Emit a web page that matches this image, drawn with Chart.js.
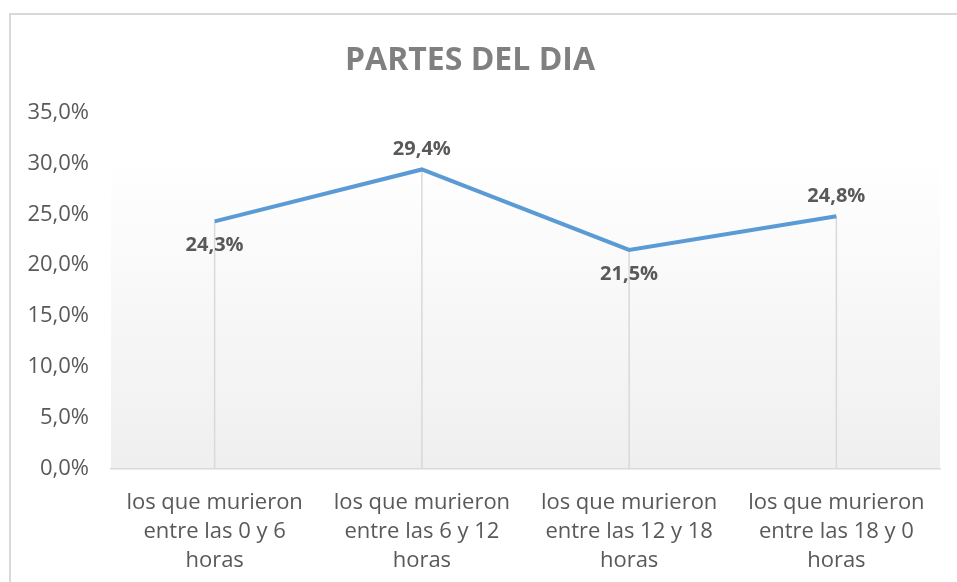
<!DOCTYPE html>
<html lang="es">
<head>
    <meta charset="UTF-8">
    <title>Partes del día</title>
    <script src="https://cdn.jsdelivr.net/npm/chart.js"></script>
    <style>
        html, body { margin: 0; padding: 0; background: #fff; }
        #marco {
            position: absolute;
            left: 9px; top: 13px;
            width: 960px; height: 600px;
            border: 2px solid #d9d9d9;
            box-sizing: border-box;
        }
        #grafico { position: absolute; left: 0; top: 0; }
    </style>
</head>
<body>
    <div id="marco"></div>
    <canvas id="grafico" width="957" height="582"></canvas>

    <script>
        // Datos del gráfico
        const categorias = [
            ['los que murieron', 'entre las 0 y 6', 'horas'],
            ['los que murieron', 'entre las 6 y 12', 'horas'],
            ['los que murieron', 'entre las 12 y 18', 'horas'],
            ['los que murieron', 'entre las 18 y 0', 'horas']
        ];
        const porcentajes = [0.243, 0.294, 0.215, 0.248];
        const etiquetasY = ['0,0%', '5,0%', '10,0%', '15,0%', '20,0%', '25,0%', '30,0%', '35,0%'];
        // posición de cada etiqueta respecto al punto
        const lugarEtiqueta = ['abajo', 'arriba', 'abajo', 'arriba'];

        const fuente = "'Open Sans', 'DejaVu Sans', sans-serif";
        const fmt = v => (v * 100).toFixed(1).replace('.', ',') + '%';

        // Fondo degradado del área de trazado
        const fondoArea = {
            id: 'fondoArea',
            beforeDraw(chart) {
                const { ctx, chartArea } = chart;
                const y = chart.scales.y;
                const arriba = y.getPixelForValue(0.304);
                const g = ctx.createLinearGradient(0, arriba, 0, chartArea.bottom);
                g.addColorStop(0, '#ffffff');
                g.addColorStop(1, '#efefef');
                ctx.save();
                ctx.fillStyle = g;
                ctx.fillRect(chartArea.left, arriba, chartArea.right - chartArea.left, chartArea.bottom - arriba);
                ctx.restore();
            }
        };

        // Líneas de caída desde cada punto y etiquetas de datos
        const caidasYEtiquetas = {
            id: 'caidasYEtiquetas',
            beforeDatasetsDraw(chart) {
                const { ctx } = chart;
                const y = chart.scales.y;
                const meta = chart.getDatasetMeta(0);
                ctx.save();
                ctx.strokeStyle = '#d9d9d9';
                ctx.lineWidth = 1.5;
                meta.data.forEach(p => {
                    ctx.beginPath();
                    ctx.moveTo(p.x, p.y);
                    ctx.lineTo(p.x, y.getPixelForValue(0));
                    ctx.stroke();
                });
                ctx.restore();
            },
            afterDatasetsDraw(chart) {
                const { ctx } = chart;
                const meta = chart.getDatasetMeta(0);
                ctx.save();
                ctx.font = "bold 20px " + fuente;
                ctx.fillStyle = '#595959';
                ctx.textAlign = 'center';
                ctx.textBaseline = 'middle';
                meta.data.forEach((p, i) => {
                    const dy = lugarEtiqueta[i] === 'arriba' ? -20 : 24;
                    ctx.fillText(fmt(porcentajes[i]), p.x, p.y + dy);
                });
                ctx.restore();
            }
        };

        const ctx = document.getElementById('grafico').getContext('2d');
        const miGrafico = new Chart(ctx, {
            type: 'line',
            data: {
                labels: categorias,
                datasets: [{
                    data: porcentajes,
                    borderColor: '#5b9bd5',
                    borderWidth: 4,
                    pointRadius: 0,
                    tension: 0,
                    fill: false
                }]
            },
            options: {
                responsive: false,
                animation: false,
                layout: { padding: { left: 0, right: 17, top: 0, bottom: 0 } },
                plugins: {
                    legend: { display: false },
                    tooltip: { enabled: false },
                    title: {
                        display: true,
                        text: 'PARTES DEL DIA',
                        color: '#808080',
                        font: { family: fuente, size: 32, weight: 'bold', lineHeight: 1.2 },
                        padding: { top: 42, bottom: 32 }
                    }
                },
                scales: {
                    x: {
                        offset: true,
                        afterFit(s) { s.height = 113; },
                        grid: { display: false, drawTicks: false },
                        border: { color: '#d9d9d9', width: 1.5 },
                        ticks: {
                            color: '#595959',
                            font: { family: fuente, size: 22, lineHeight: 1.32 },
                            padding: 19,
                            maxRotation: 0,
                            autoSkip: false
                        }
                    },
                    y: {
                        min: 0,
                        max: 0.35,
                        afterFit(s) { s.width = 111; },
                        grid: { display: false, drawTicks: false },
                        border: { display: false },
                        ticks: {
                            stepSize: 0.05,
                            color: '#595959',
                            font: { family: fuente, size: 22 },
                            padding: 22,
                            callback: (v, i) => etiquetasY[i]
                        }
                    }
                }
            },
            plugins: [fondoArea, caidasYEtiquetas]
        });
    </script>
</body>
</html>
